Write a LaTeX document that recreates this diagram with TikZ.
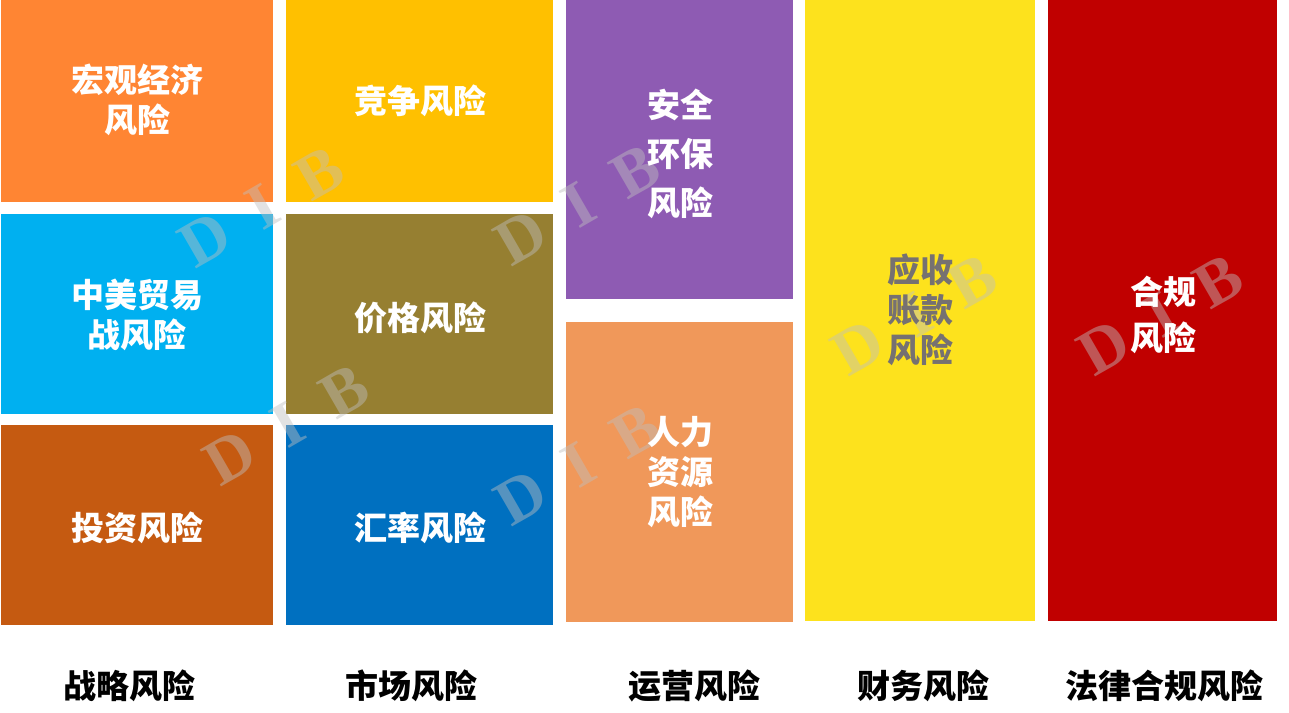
\documentclass[tikz,border=0pt]{standalone}
\usepackage{fontspec}
\newfontfamily\cjk{Noto Sans CJK SC}
\newfontfamily\wmfont{Liberation Serif}
\definecolor{cOrange}{HTML}{FF8533}
\definecolor{cLBlue}{HTML}{00B0F0}
\definecolor{cDOrange}{HTML}{C55A11}
\definecolor{cGold}{HTML}{FFC000}
\definecolor{cOlive}{HTML}{967F31}
\definecolor{cBlue}{HTML}{0070C0}
\definecolor{cPurple}{HTML}{8E5BB3}
\definecolor{cPeach}{HTML}{F0985A}
\definecolor{cYellow}{HTML}{FDE21D}
\definecolor{cRed}{HTML}{C00000}
\definecolor{cGrayText}{HTML}{767171}
\definecolor{cWM}{HTML}{BFBFBF}
\newcommand{\dibmark}{D\hspace{30pt}I\hspace{32pt}B}
\begin{document}
\begin{tikzpicture}[x=1pt,y=-1pt,
  lbl/.style={text=white,align=center,inner sep=0pt,font=\cjk\bfseries\fontsize{33}{40}\selectfont},
  cat/.style={text=black,align=center,inner sep=0pt,font=\cjk\bfseries\fontsize{33}{40}\selectfont},
  wm/.style={text=cWM,text opacity=0.45,rotate=30,inner sep=0pt,font=\wmfont\bfseries\fontsize{65}{65}\selectfont}]
\useasboundingbox (0,0) rectangle (1289,712);
\fill[white] (0,0) rectangle (1289,712);
% column 1
\fill[cOrange] (1,0) rectangle (273,202);
\fill[cLBlue] (1,214) rectangle (273,414);
\fill[cDOrange] (1,425) rectangle (273,625);
% column 2
\fill[cGold] (286,0) rectangle (553,202);
\fill[cOlive] (286,214) rectangle (553,414);
\fill[cBlue] (286,425) rectangle (553,625);
% column 3
\fill[cPurple] (566,0) rectangle (793,299);
\fill[cPeach] (566,322) rectangle (793,622);
% column 4, 5
\fill[cYellow] (805,0) rectangle (1035,621);
\fill[cRed] (1048,0) rectangle (1277,621);
% watermarks
\node[wm] (w1) at (262,207) {\dibmark};
\node[wm] (w2) at (578,205) {\dibmark};
\node[wm] (w3) at (287,425) {\dibmark};
\node[wm] (w4) at (578,465) {\dibmark};
\node[wm] (w5) at (915,315) {\dibmark};
\node[wm] (w6) at (1161,315) {\dibmark};
% labels
\node[lbl] (t1) at (137,100) {宏观经济\\风险};
\node[lbl] (t2) at (137,315) {中美贸易\\战风险};
\node[lbl] (t3) at (137,528) {投资风险};
\node[lbl] (t4) at (420,101) {竞争风险};
\node[lbl] (t5) at (420,318) {价格风险};
\node[lbl] (t6) at (420,528) {汇率风险};
\node[lbl,font=\cjk\bfseries\fontsize{33}{49}\selectfont] (t7) at (680,154) {安全\\环保\\风险};
\node[lbl] (t8) at (680,472) {人力\\资源\\风险};
\node[lbl,text=cGrayText] (t9) at (920,310) {应收\\账款\\风险};
\node[lbl,font=\cjk\bfseries\fontsize{33}{46}\selectfont] (t10) at (1163,315) {合规\\风险};
% categories
\node[cat] (c1) at (129,686) {战略风险};
\node[cat] (c2) at (411,686) {市场风险};
\node[cat] (c3) at (694,686) {运营风险};
\node[cat] (c4) at (923,686) {财务风险};
\node[cat] (c5) at (1164,686) {法律合规风险};
\end{tikzpicture}
\end{document}
